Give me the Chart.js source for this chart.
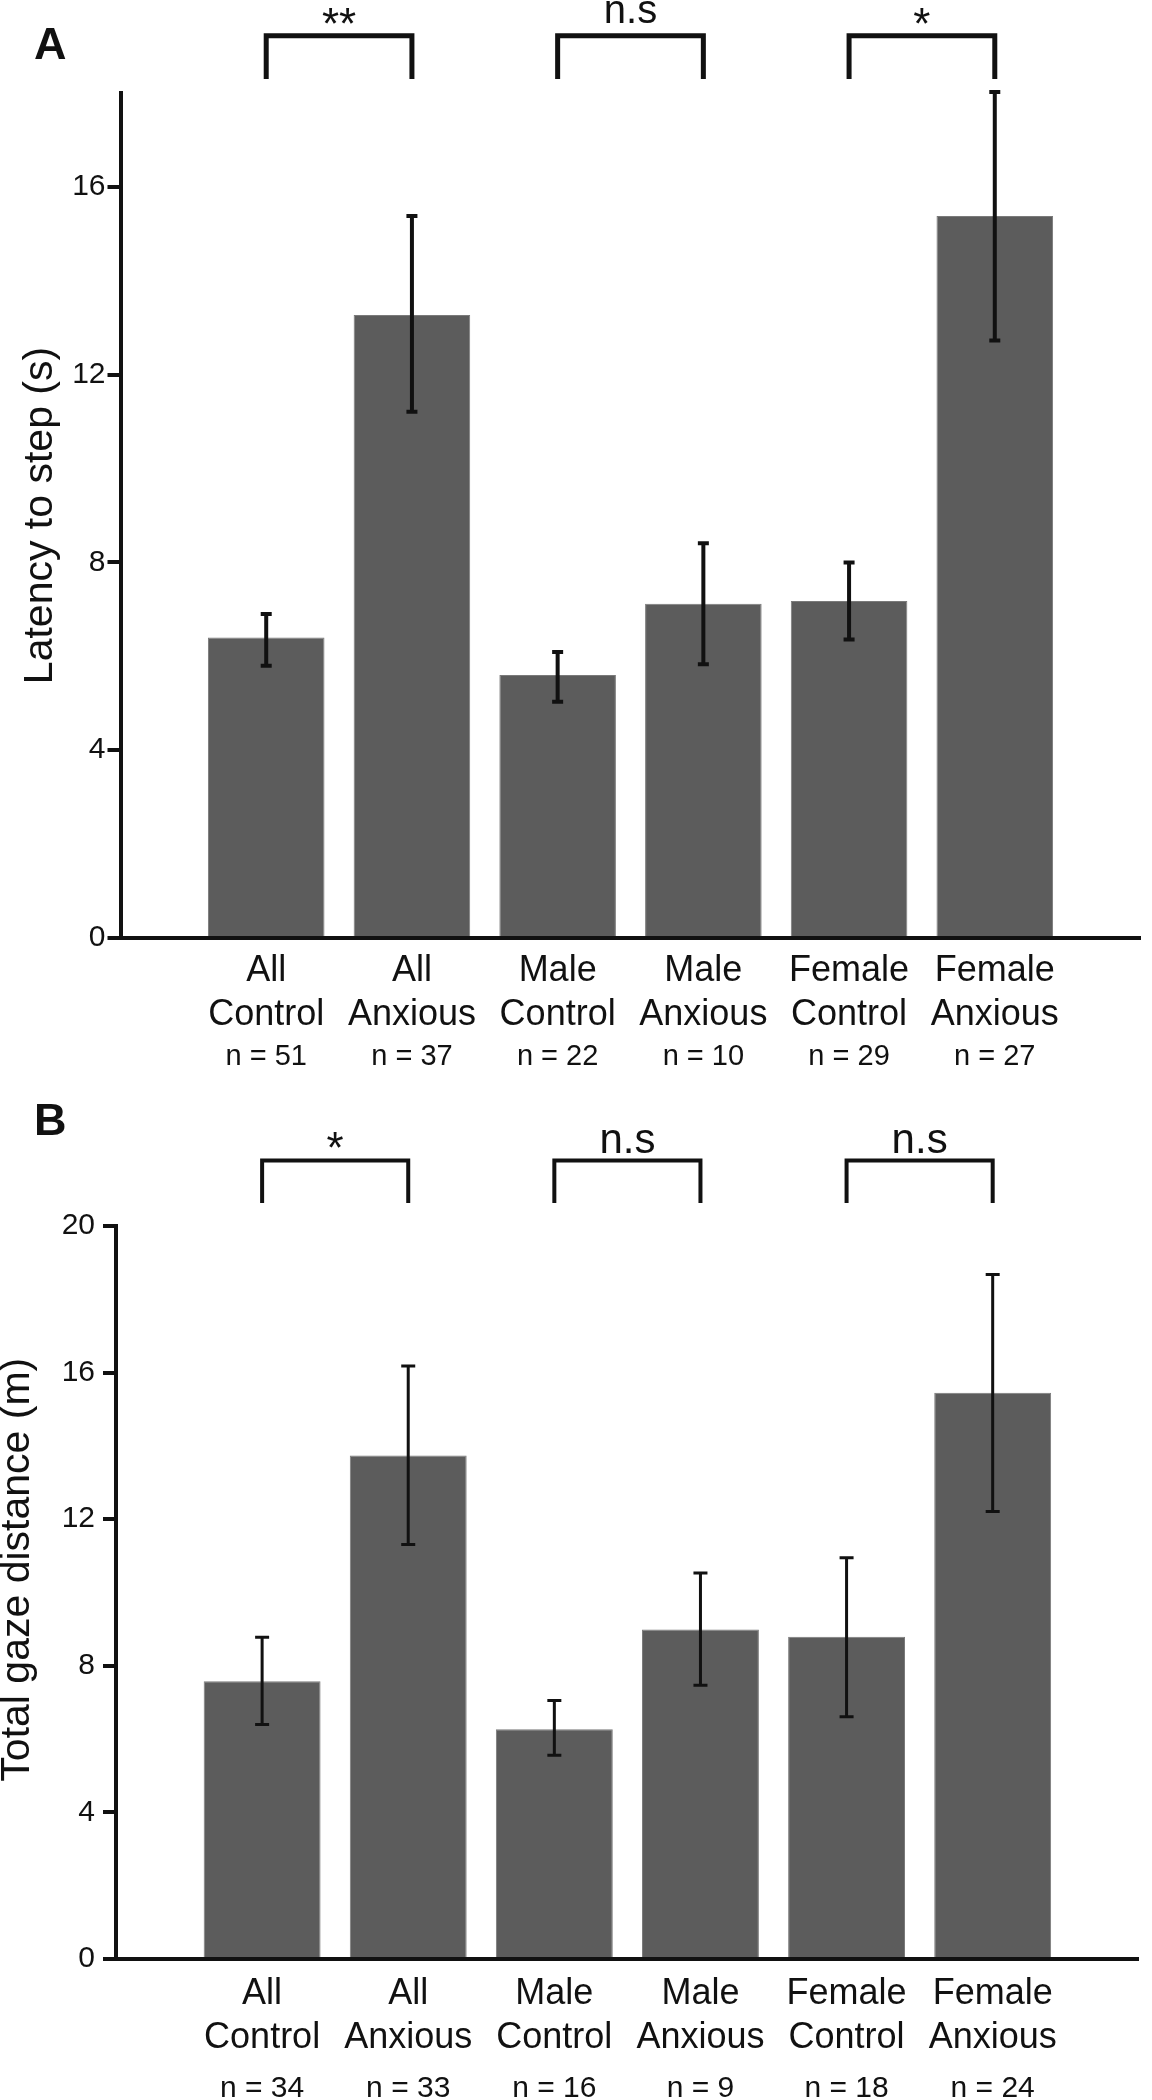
<!DOCTYPE html>
<html>
<head>
<meta charset="utf-8">
<script src="https://cdn.jsdelivr.net/npm/chart.js@4.4.1/dist/chart.umd.min.js"></script>
<style>
  html, body { margin: 0; padding: 0; background: #fff; overflow: hidden; }
  #wrap { position: relative; width: 1152px; height: 2100px; }
  #panelA { position: absolute; left: 0; top: 0; }
  #panelB { position: absolute; left: 0; top: 1090px; }
</style>
</head>
<body>
<div id="wrap">
  <canvas id="panelA" width="1152" height="1090"></canvas>
  <canvas id="panelB" width="1152" height="1030"></canvas>
</div>
<script>
// groups on the x axis (two lines each)
const groups = [
  ['All', 'Control'], ['All', 'Anxious'],
  ['Male', 'Control'], ['Male', 'Anxious'],
  ['Female', 'Control'], ['Female', 'Anxious']
];

// panel A: latency to step (s), mean and error bar ends
const latencyMean = [6.40, 13.27, 5.60, 7.12, 7.18, 15.38];
const latencyHi = [6.90, 15.38, 6.09, 8.41, 8.00, 18.02];
const latencyLo = [5.80, 11.21, 5.03, 5.83, 6.36, 12.73];
const latencyN = ['n = 51', 'n = 37', 'n = 22', 'n = 10', 'n = 29', 'n = 27'];
const latencySig = ['**', 'n.s', '*'];

// panel B: total gaze distance (m)
const gazeMean = [7.58, 13.74, 6.27, 8.99, 8.79, 15.45];
const gazeHi = [8.78, 16.18, 7.05, 10.53, 10.95, 18.68];
const gazeLo = [6.40, 11.31, 5.56, 7.47, 6.61, 12.21];
const gazeN = ['n = 34', 'n = 33', 'n = 16', 'n = 9', 'n = 18', 'n = 24'];
const gazeSig = ['*', 'n.s', 'n.s'];

// compared pairs (x positions of groups)
const sigPairs = [[1, 2], [3, 4], [5, 6]];

const FONT = "'Liberation Sans', Arial, Helvetica, sans-serif";
const INK = '#111111';

// error bars, significance brackets and the panel letter
const annotPlugin = {
  id: 'annot',
  afterDatasetsDraw(chart, args, o) {
    const ctx = chart.ctx, xs = chart.scales.x, ys = chart.scales.y;
    ctx.save();
    ctx.strokeStyle = INK;
    ctx.fillStyle = INK;
    ctx.lineCap = 'butt';

    ctx.lineWidth = o.errWidth;
    o.hi.forEach((h, i) => {
      const x = xs.getPixelForValue(i + 1);
      const yH = ys.getPixelForValue(h);
      const yL = ys.getPixelForValue(o.lo[i]);
      ctx.beginPath();
      ctx.moveTo(x, yH); ctx.lineTo(x, yL);
      ctx.moveTo(x - o.cap, yH); ctx.lineTo(x + o.cap, yH);
      ctx.moveTo(x - o.cap, yL); ctx.lineTo(x + o.cap, yL);
      ctx.stroke();
    });

    ctx.lineWidth = o.sigWidth;
    ctx.lineJoin = 'miter';
    ctx.textAlign = 'center';
    ctx.textBaseline = 'alphabetic';
    const yTop = ys.getPixelForValue(o.sigTop);
    const yLeg = ys.getPixelForValue(o.sigLeg);
    sigPairs.forEach((p, i) => {
      const x1 = xs.getPixelForValue(p[0]);
      const x2 = xs.getPixelForValue(p[1]);
      ctx.beginPath();
      ctx.moveTo(x1, yLeg); ctx.lineTo(x1, yTop);
      ctx.lineTo(x2, yTop); ctx.lineTo(x2, yLeg);
      ctx.stroke();
      const t = o.sig[i];
      const star = t.startsWith('*');
      ctx.font = (star ? o.starSize : o.nsSize) + 'px ' + FONT;
      ctx.fillText(t, (x1 + x2) / 2, yTop + (star ? o.starDy : o.nsDy));
    });

    ctx.font = 'bold 45px ' + FONT;
    ctx.textAlign = 'left';
    ctx.fillText(o.letter, 34, o.letterY);
    ctx.restore();
  }
};

function panel(id, o) {
  return new Chart(document.getElementById(id), {
    type: 'bar',
    data: {
      datasets: [{
        data: o.mean.map((v, i) => ({ x: i + 1, y: v })),
        xAxisID: 'x',
        yAxisID: 'y',
        backgroundColor: '#5c5c5c',
        borderColor: '#7a7a7a',
        borderWidth: 1,
        barPercentage: 0.8,
        categoryPercentage: 1
      }]
    },
    options: {
      responsive: false,
      animation: false,
      events: [],
      layout: { padding: { top: o.top, right: o.right, left: 0, bottom: 0 } },
      plugins: {
        legend: { display: false },
        tooltip: { enabled: false },
        annot: o.annot
      },
      scales: {
        x: {
          type: 'linear', position: 'bottom', weight: 0, min: 0, max: 7, z: 1,
          offset: false,
          grid: { display: false, drawTicks: false, offset: false },
          border: { color: INK, width: 4 },
          ticks: {
            stepSize: 1, autoSkip: false, maxRotation: 0, minRotation: 0,
            padding: o.catPad, color: INK,
            font: { family: FONT, size: 36, lineHeight: 44 / 36 },
            callback: v => groups[v - 1] || ''
          },
          afterFit: s => { s.height = 100; }
        },
        x2: {
          type: 'linear', position: 'bottom', weight: 1, min: 0, max: 7,
          offset: false,
          grid: { display: false, drawTicks: false, offset: false },
          border: { display: false },
          ticks: {
            stepSize: 1, autoSkip: false, maxRotation: 0, minRotation: 0,
            padding: o.nPad, color: INK,
            font: { family: FONT, size: o.nSize, lineHeight: 1.2 },
            callback: v => o.ns[v - 1] || ''
          },
          afterFit: s => { s.height = o.nH; }
        },
        y: {
          position: 'left', min: 0, max: o.ymax,
          grid: { drawOnChartArea: false, drawTicks: true, tickLength: o.tickLen, lineWidth: 4, color: INK },
          border: { color: INK, width: 4 },
          ticks: {
            stepSize: 4, includeBounds: false, padding: o.tickPad, color: INK,
            font: { family: FONT, size: 30 }
          },
          title: {
            display: true, text: o.title, color: INK,
            font: { family: FONT, size: 41, lineHeight: 0.8 },
            padding: { top: o.titlePad, bottom: 0 }
          },
          afterFit: s => { s.width = o.axisX; }
        }
      }
    },
    plugins: [annotPlugin]
  });
}

panel('panelA', {
  mean: latencyMean, ns: latencyN, ymax: 18,
  top: 93, right: 11, axisX: 120.5, tickLen: 13, tickPad: 2,
  title: 'Latency to step (s)', titlePad: 24,
  catPad: 11.5, nPad: 1.3, nSize: 29, nH: 52,
  annot: {
    hi: latencyHi, lo: latencyLo, errWidth: 4, cap: 5.5,
    sig: latencySig, sigTop: 19.22, sigLeg: 18.3, sigWidth: 5,
    starSize: 44, starDy: 3, nsSize: 40, nsDy: -13,
    letter: 'A', letterY: 59
  }
});

panel('panelB', {
  mean: gazeMean, ns: gazeN, ymax: 20,
  top: 136, right: 0, axisX: 116, tickLen: 13, tickPad: 8,
  title: '    Total gaze distance (m)', titlePad: 1,
  catPad: 13.2, nPad: 12, nSize: 30, nH: 61,
  annot: {
    hi: gazeHi, lo: gazeLo, errWidth: 3, cap: 7,
    sig: gazeSig, sigTop: 21.79, sigLeg: 20.63, sigWidth: 4,
    starSize: 44, starDy: 3, nsSize: 42, nsDy: -7,
    letter: 'B', letterY: 45
  }
});
</script>
</body>
</html>
